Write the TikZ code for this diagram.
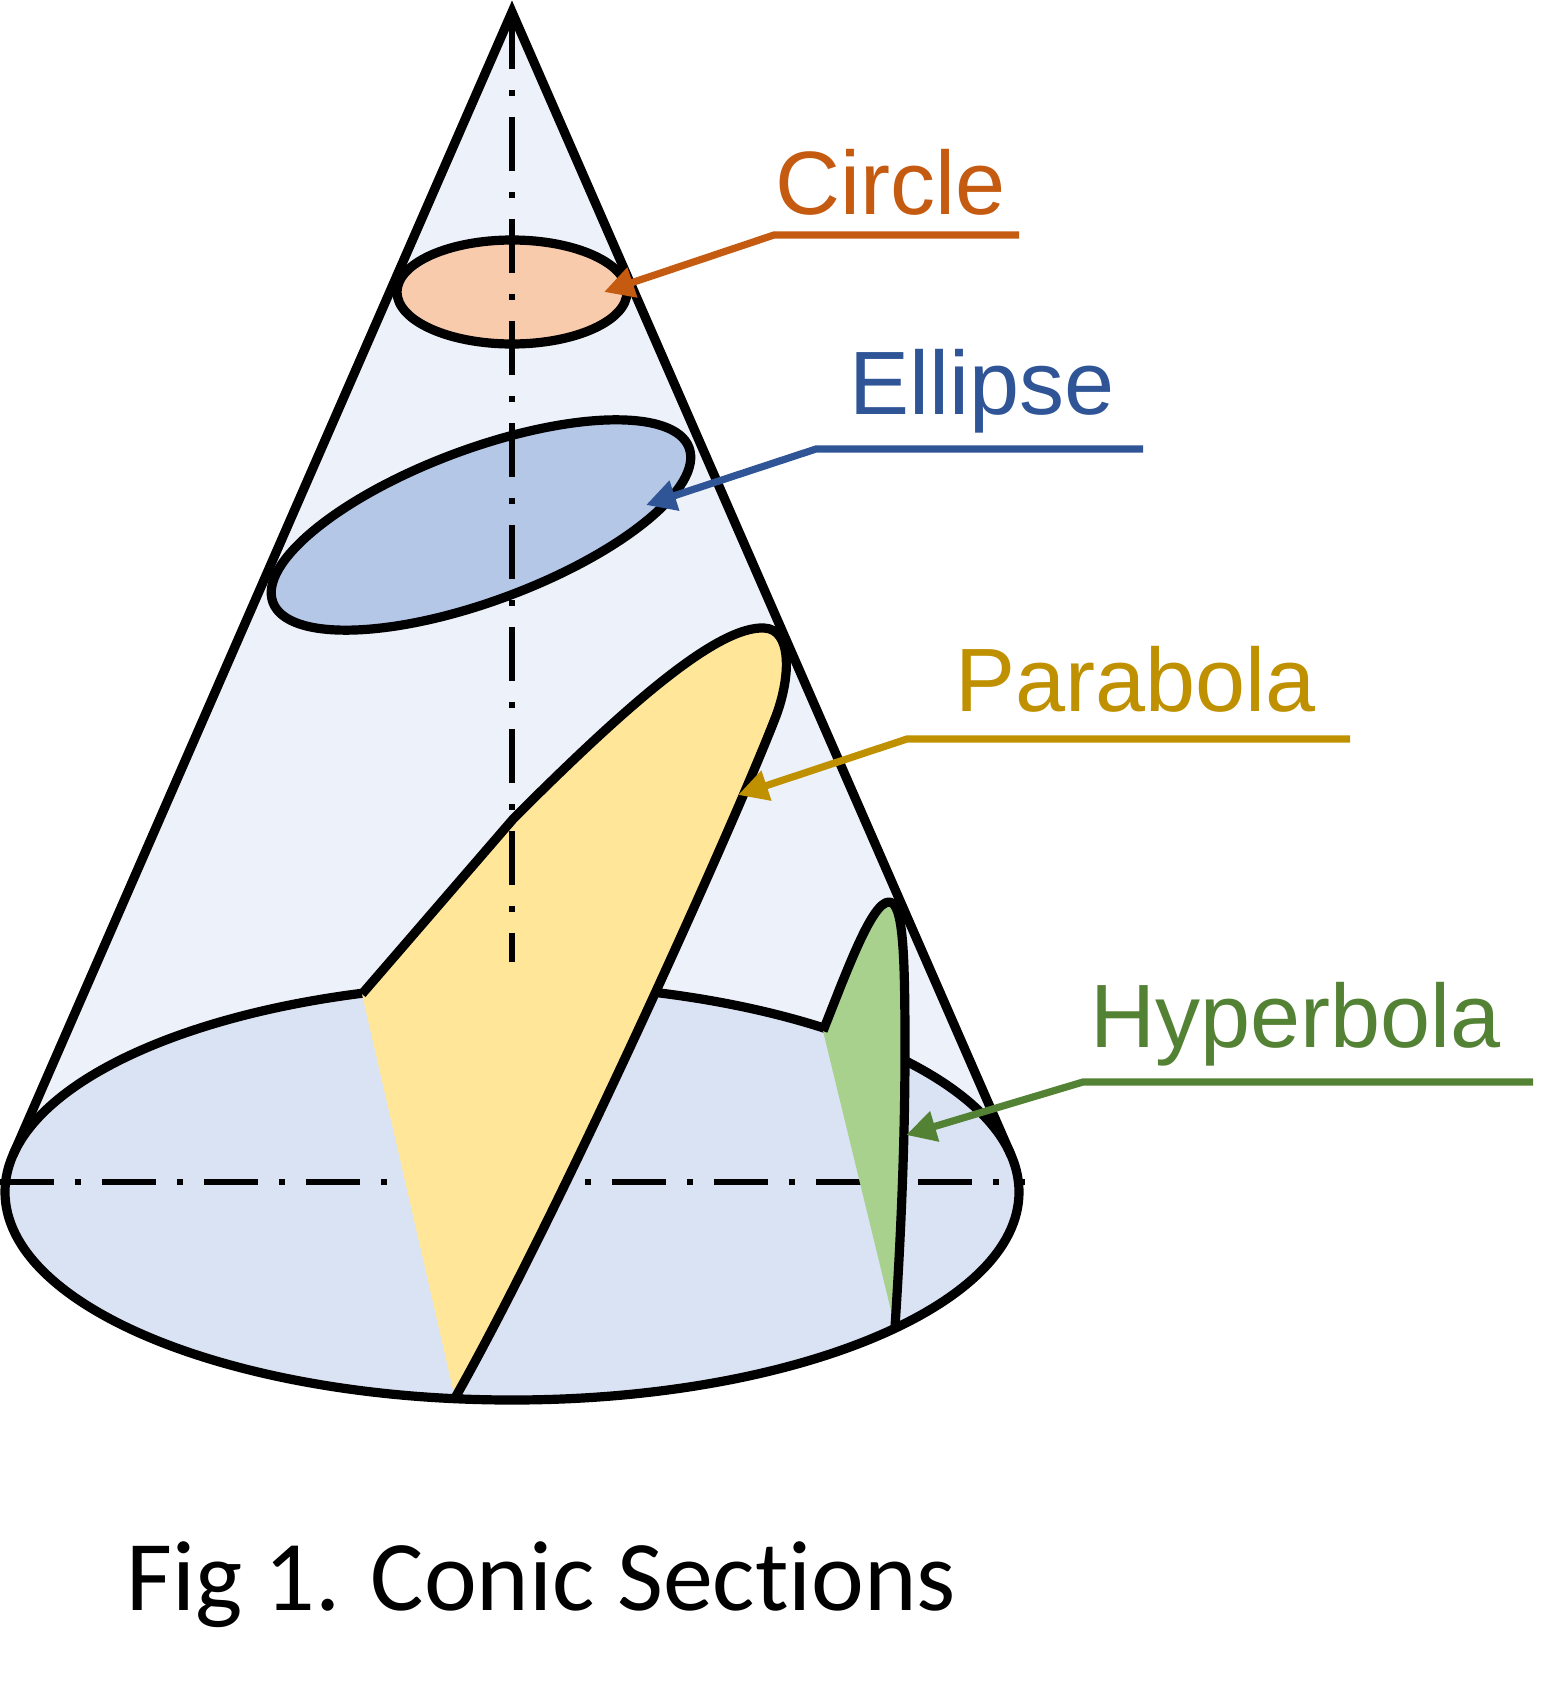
\documentclass[tikz,border=0pt]{standalone}
\usepackage{fontspec}
\setmainfont{Liberation Sans}
\newfontfamily\capfont[Ligatures={NoCommon}]{Carlito}
\usetikzlibrary{arrows.meta}
\definecolor{circlecol}{HTML}{C55A11}
\definecolor{ellcol}{HTML}{2F5597}
\definecolor{paracol}{HTML}{BF9000}
\definecolor{hypcol}{HTML}{548235}
\definecolor{circfill}{HTML}{F8CBAD}
\definecolor{ellfill}{HTML}{B4C7E7}
\definecolor{parafill}{HTML}{FFE699}
\definecolor{hypfill}{HTML}{A9D18E}
\definecolor{basefill}{HTML}{DAE3F3}
\definecolor{conefill}{HTML}{EDF1F9}
\begin{document}
\begin{tikzpicture}[x=0.5pt,y=-0.5pt,
  outl/.style={line width=4.6pt, line join=round, draw=black},
  axisline/.style={line width=3.2pt, draw=black, dash pattern=on 27pt off 10.5pt on 3pt off 10.5pt},
  lab/.style={anchor=base west, inner sep=0pt, font=\fontsize{45}{54}\selectfont},
  callout/.style={line width=3.6pt, line join=miter, -{Triangle[length=15pt,width=15pt]}}
]
\useasboundingbox (0,0) rectangle (1558,1692);
% key points
\coordinate (apex) at (512,12);
\coordinate (lt) at (13,1155);
\coordinate (rt) at (1011,1155);
\coordinate (bc) at (512,1192);
\coordinate (hL) at (0,1182);
\coordinate (hR) at (1025,1182);
\coordinate (vT) at (512,15);
\coordinate (vB) at (512,962);
\coordinate (cc) at (512,292);
\coordinate (ec) at (481,525);
\coordinate (p1) at (362,994);
\coordinate (p2) at (514,818);
\coordinate (p3) at (764,628);
\coordinate (p4) at (776,716);
\coordinate (p5) at (455,1398);
\coordinate (h1) at (823,1031);
\coordinate (h2) at (889,902);
\coordinate (h3) at (905,1050);
\coordinate (h4) at (895,1327);
% cone body
\fill[conefill] (apex) -- (lt) -- (rt) -- cycle;
\fill[basefill] (bc) ellipse [x radius=507, y radius=208];
\draw[outl] (bc) ellipse [x radius=507, y radius=208];
\draw[axisline] (hL) -- (hR);
% section fills
\fill[circfill] (cc) ellipse [x radius=115, y radius=52];
\fill[ellfill, rotate around={20.4:(ec)}] (ec) ellipse [x radius=222, y radius=76];
\fill[parafill] (p1) -- (p2) .. controls (630,702) and (718,626) .. (p3)
  .. controls (792,629) and (791,676) .. (p4)
  .. controls (736,820) and (560,1212) .. (p5) -- cycle;
\fill[hypfill] (h1) .. controls (848,968) and (872,902) .. (h2)
  .. controls (903,902) and (905,950) .. (h3)
  .. controls (905,1150) and (900,1250) .. (h4) -- cycle;
% axis
\draw[axisline] (vT) -- (vB);
% outlines
\draw[outl, line join=miter] (lt) -- (apex) -- (rt);
\draw[outl] (cc) ellipse [x radius=115, y radius=52];
\draw[outl, rotate around={20.4:(ec)}] (ec) ellipse [x radius=222, y radius=76];
\draw[outl] (p1) -- (p2) .. controls (630,702) and (718,626) .. (p3)
  .. controls (792,629) and (791,676) .. (p4)
  .. controls (736,820) and (560,1212) .. (p5);
\draw[outl] (h1) .. controls (848,968) and (872,902) .. (h2)
  .. controls (903,902) and (905,950) .. (h3)
  .. controls (905,1150) and (900,1250) .. (h4);
% labels
\node[lab, text=circlecol] (tCircle) at (775,214) {Circle};
\node[lab, text=ellcol] (tEllipse) at (849,414) {Ellipse};
\node[lab, text=paracol] (tParabola) at (955,711) {Parabola};
\node[lab, text=hypcol] (tHyperbola) at (1090,1047) {Hyperbola};
% callouts
\coordinate (cEnd) at (1019,235);
\coordinate (cElb) at (774,235);
\coordinate (cTip) at (604,292);
\coordinate (eEnd) at (1143,449);
\coordinate (eElb) at (816,449);
\coordinate (eTip) at (646,505);
\coordinate (pEnd) at (1350,739);
\coordinate (pElb) at (907,739);
\coordinate (pTip) at (738,795);
\coordinate (yEnd) at (1533,1082);
\coordinate (yElb) at (1083,1082);
\coordinate (yTip) at (906,1135);
\draw[callout, color=circlecol] (cEnd) -- (cElb) -- (cTip);
\draw[callout, color=ellcol] (eEnd) -- (eElb) -- (eTip);
\draw[callout, color=paracol] (pEnd) -- (pElb) -- (pTip);
\draw[callout, color=hypcol] (yEnd) -- (yElb) -- (yTip);
% caption
\node[anchor=base west, inner sep=0pt, font=\capfont\fontsize{50}{60}\selectfont] (caption) at (126,1610) {Fig 1. Conic Sections};
\end{tikzpicture}
\end{document}
